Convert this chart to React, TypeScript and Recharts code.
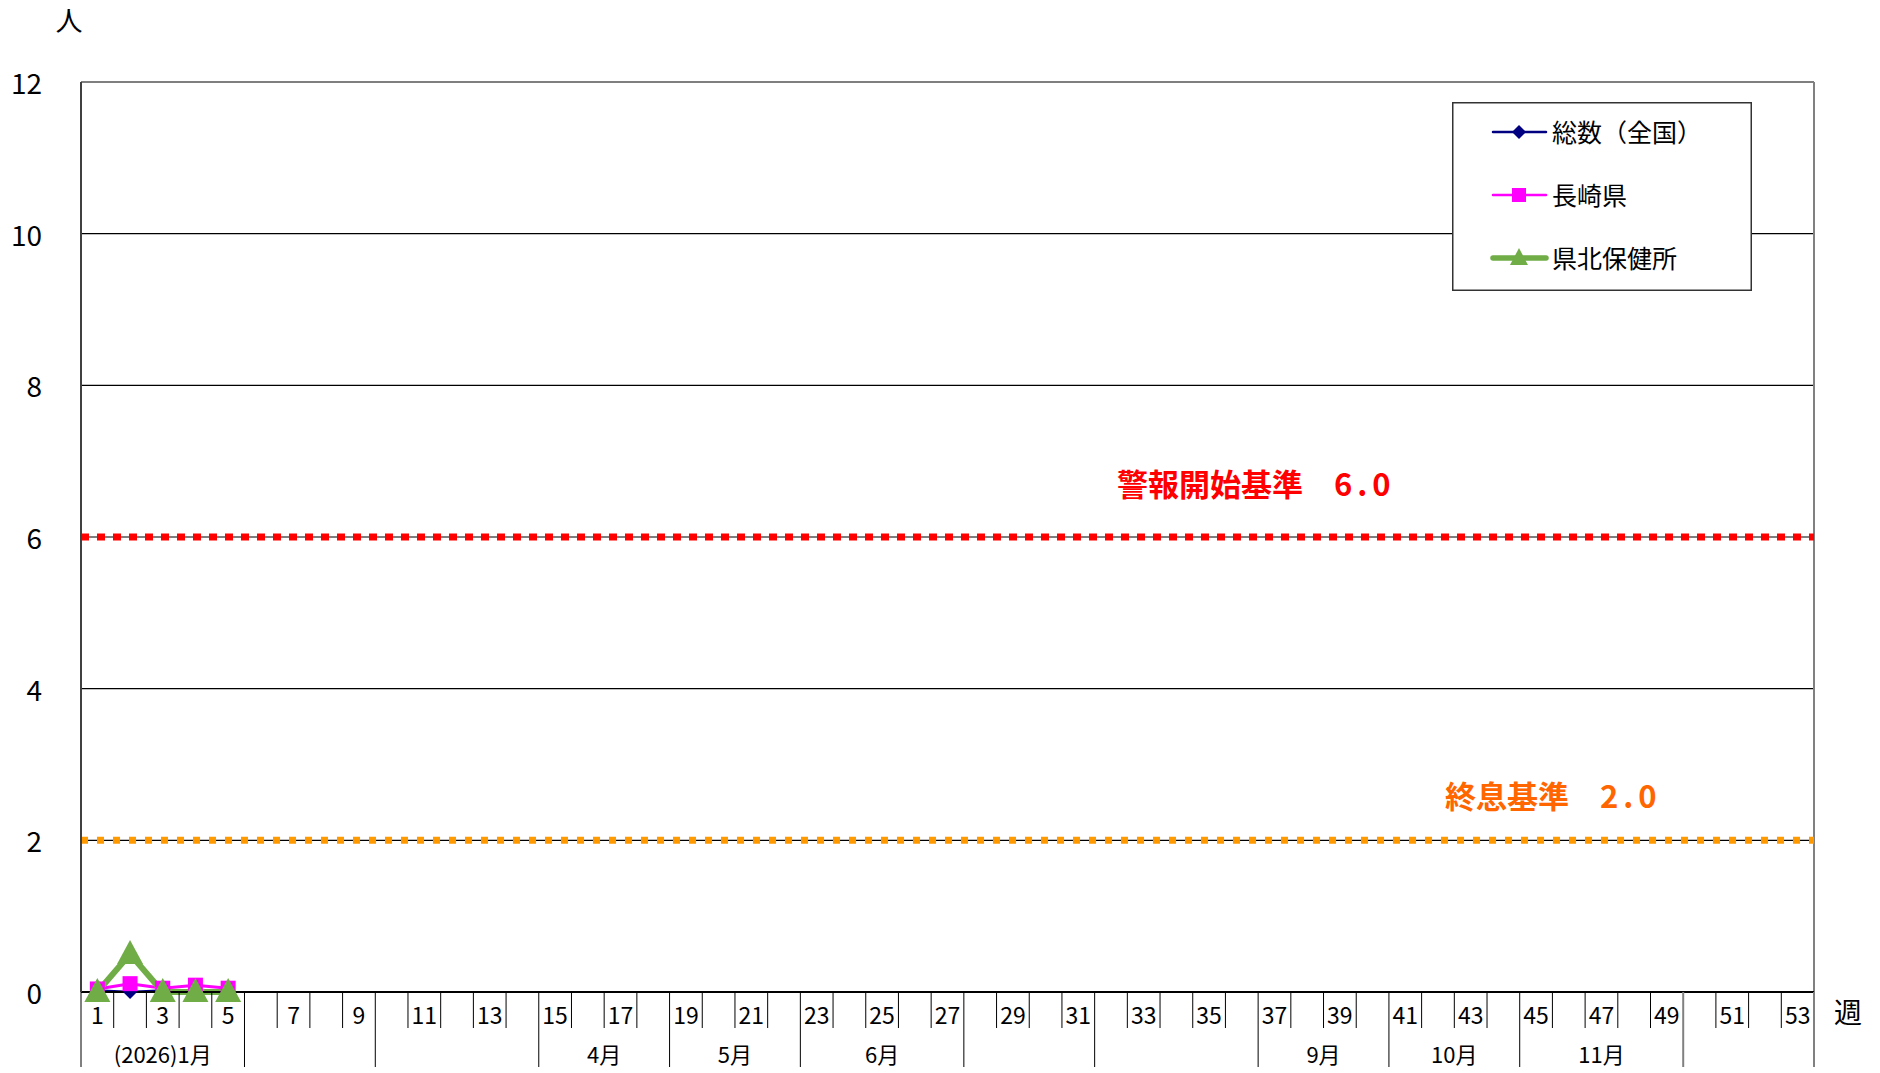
import React from "react";
import {
  LineChart,
  Line,
  XAxis,
  YAxis,
  CartesianGrid,
  ReferenceLine,
  Legend,
} from "recharts";

// 週 1..53
const weeks = Array.from({ length: 53 }, (_, i) => i + 1);

// 定点当たり報告数（第1〜5週）
const nationalTotal = [0.02, 0.0, 0.02, 0.02, 0.02];
const nagasaki = [0.04, 0.11, 0.05, 0.09, 0.05];
const kenpoku = [0, 0.5, 0, 0, 0];

const yTicks = [0, 2, 4, 6, 8, 10, 12];

const monthLabels = ["(2026)1月", "", "", "4月", "5月", "6月", "", "", "9月", "10月", "11月", ""];
const monthLastWeek = [5, 9, 14, 18, 22, 27, 31, 36, 40, 44, 49, 53];

const warningLevel = 6.0;
const endLevel = 2.0;

const W = 1880;
const H = 1073;
const MARGIN = { top: 82, right: 66, left: 0, bottom: 6 };
const Y_AXIS_W = 81;
const X_AXIS_H = 75;
const PLOT_BOTTOM = H - MARGIN.bottom - X_AXIS_H;
const PLOT_W = W - MARGIN.right - Y_AXIS_W;
const BW = PLOT_W / weeks.length;

const FONT = "'Noto Sans CJK JP', 'Noto Sans', sans-serif";

const data = weeks.map((w, i) => ({
  week: String(w),
  national: i < nationalTotal.length ? nationalTotal[i] : null,
  nagasaki: i < nagasaki.length ? nagasaki[i] : null,
  kenpoku: i < kenpoku.length ? kenpoku[i] : null,
}));

function DiamondDot(props: any) {
  const { cx, cy } = props;
  if (cx == null || cy == null) return <g />;
  const r = 7;
  return (
    <path
      d={`M${cx},${cy - r}L${cx + r},${cy}L${cx},${cy + r}L${cx - r},${cy}Z`}
      fill="#000080"
    />
  );
}

function SquareDot(props: any) {
  const { cx, cy } = props;
  if (cx == null || cy == null) return <g />;
  return <rect x={cx - 7.5} y={cy - 7.5} width={15} height={15} fill="#FF00FF" />;
}

function TriangleDot(props: any) {
  const { cx, cy } = props;
  if (cx == null || cy == null) return <g />;
  return (
    <path
      d={`M${cx},${cy - 14}L${cx + 13},${cy + 10}L${cx - 13},${cy + 10}Z`}
      fill="#70AD47"
    />
  );
}

function WeekTick(props: any) {
  const { x, payload } = props;
  const w = Number(payload.value);
  const left = x - BW / 2;
  const isMonthStart = w === 1 || monthLastWeek.includes(w - 1);
  const mi = monthLastWeek.findIndex((e) => e >= w);
  const start = mi === 0 ? 1 : monthLastWeek[mi - 1] + 1;
  const span = monthLastWeek[mi] - start + 1;
  return (
    <g>
      <line
        x1={left}
        x2={left}
        y1={PLOT_BOTTOM}
        y2={isMonthStart ? PLOT_BOTTOM + 75 : PLOT_BOTTOM + 36}
        stroke={w === 50 ? "#808080" : "#000"}
        strokeWidth={w === 50 ? 2 : 1}
      />
      {w === weeks.length && (
        <line
          x1={left + BW}
          x2={left + BW}
          y1={PLOT_BOTTOM}
          y2={PLOT_BOTTOM + 75}
          stroke="#808080"
          strokeWidth={2}
        />
      )}
      {w % 2 === 1 && (
        <text
          x={x}
          y={PLOT_BOTTOM + 22}
          textAnchor="middle"
          dominantBaseline="central"
          fontSize={23}
          fill="#000"
          fontFamily={FONT}
        >
          {w}
        </text>
      )}
      {isMonthStart && monthLabels[mi] && (
        <text
          x={left + (span * BW) / 2}
          y={PLOT_BOTTOM + 61}
          textAnchor="middle"
          dominantBaseline="central"
          fontSize={22}
          fill="#000"
          fontFamily={FONT}
        >
          {monthLabels[mi]}
        </text>
      )}
    </g>
  );
}

function ValueTick(props: any) {
  const { y, payload } = props;
  return (
    <text
      x={42}
      y={y}
      textAnchor="end"
      dominantBaseline="central"
      fontSize={28}
      fill="#000"
      fontFamily={FONT}
    >
      {payload.value}
    </text>
  );
}

const legendItems = [
  { name: "総数（全国）", color: "#000080", width: 2.5, dot: "diamond" },
  { name: "長崎県", color: "#FF00FF", width: 2.5, dot: "square" },
  { name: "県北保健所", color: "#70AD47", width: 5.5, dot: "triangle" },
];

function LegendBox() {
  return (
    <svg width={300} height={189} style={{ display: "block" }}>
      <rect x={0.75} y={0.75} width={298.5} height={187.5} fill="#fff" stroke="#333" strokeWidth={1.5} />
      {legendItems.map((it, i) => {
        const cy = 30 + i * 63;
        const cx = 67;
        return (
          <g key={it.name}>
            <line x1={41} x2={94} y1={cy} y2={cy} stroke={it.color} strokeWidth={it.width} strokeLinecap="round" />
            {it.dot === "diamond" && (
              <path d={`M${cx},${cy - 7}L${cx + 7},${cy}L${cx},${cy + 7}L${cx - 7},${cy}Z`} fill={it.color} />
            )}
            {it.dot === "square" && <rect x={cx - 7} y={cy - 7} width={14} height={14} fill={it.color} />}
            {it.dot === "triangle" && (
              <path d={`M${cx},${cy - 10}L${cx + 9},${cy + 7}L${cx - 9},${cy + 7}Z`} fill={it.color} />
            )}
            <text x={100} y={cy - 1} dominantBaseline="central" fontSize={25} fill="#000" fontFamily={FONT}>
              {it.name}
            </text>
          </g>
        );
      })}
    </svg>
  );
}

export default function App() {
  return (
    <div style={{ position: "absolute", left: 0, top: 0, width: W, height: H, background: "#fff" }}>
      <LineChart width={W} height={H} data={data} margin={MARGIN} style={{ fontFamily: FONT }}>
        <CartesianGrid vertical={false} stroke="#000" strokeWidth={1.2} />
        <CartesianGrid
          horizontal={false}
          verticalCoordinatesGenerator={() => [W - MARGIN.right]}
          stroke="#808080"
          strokeWidth={2}
        />
        <XAxis
          dataKey="week"
          scale="band"
          interval={0}
          height={X_AXIS_H}
          tickLine={false}
          axisLine={{ stroke: "#000", strokeWidth: 2 }}
          tick={<WeekTick />}
          label={(p: any) => (
            <text x={1848} y={1011} textAnchor="middle" dominantBaseline="central" fontSize={28} fontFamily={FONT} fill="#000">
              週
            </text>
          )}
        />
        <YAxis
          domain={[0, 12]}
          ticks={yTicks}
          width={Y_AXIS_W}
          tickLine={false}
          axisLine={{ stroke: "#404040", strokeWidth: 2 }}
          tick={<ValueTick />}
          label={(p: any) => (
            <text x={69} y={19} textAnchor="middle" dominantBaseline="central" fontSize={27} fontFamily={FONT} fill="#000">
              人
            </text>
          )}
        />
        <ReferenceLine
          y={warningLevel}
          stroke="#FF0000"
          strokeWidth={7}
          strokeDasharray="8 8"
          label={(p: any) => (
            <text
              x={p.viewBox.x + 1036}
              y={p.viewBox.y - 55}
              dominantBaseline="central"
              fontSize={31}
              fontWeight="bold"
              fill="#FF0000"
              fontFamily={FONT}
            >
              {"警報開始基準\u3000"}
              <tspan letterSpacing={5}>{warningLevel.toFixed(1)}</tspan>
            </text>
          )}
        />
        <ReferenceLine
          y={endLevel}
          stroke="#FF9900"
          strokeWidth={7}
          strokeDasharray="7 9"
          label={(p: any) => (
            <text
              x={p.viewBox.x + 1364}
              y={p.viewBox.y - 46}
              dominantBaseline="central"
              fontSize={31}
              fontWeight="bold"
              fill="#FF6600"
              fontFamily={FONT}
            >
              {"終息基準\u3000"}
              <tspan letterSpacing={5}>{endLevel.toFixed(1)}</tspan>
            </text>
          )}
        />
        <Line
          dataKey="national"
          name="総数（全国）"
          stroke="#000080"
          strokeWidth={2.5}
          dot={<DiamondDot />}
          isAnimationActive={false}
        />
        <Line
          dataKey="nagasaki"
          name="長崎県"
          stroke="#FF00FF"
          strokeWidth={3}
          dot={<SquareDot />}
          isAnimationActive={false}
        />
        <Line
          dataKey="kenpoku"
          name="県北保健所"
          stroke="#70AD47"
          strokeWidth={6}
          dot={<TriangleDot />}
          isAnimationActive={false}
        />
        <Legend
          layout="vertical"
          align="center"
          verticalAlign="middle"
          content={() => <LegendBox />}
          wrapperStyle={{ position: "absolute", left: 1452, top: 102, width: 300, height: 189 }}
        />
      </LineChart>
    </div>
  );
}
